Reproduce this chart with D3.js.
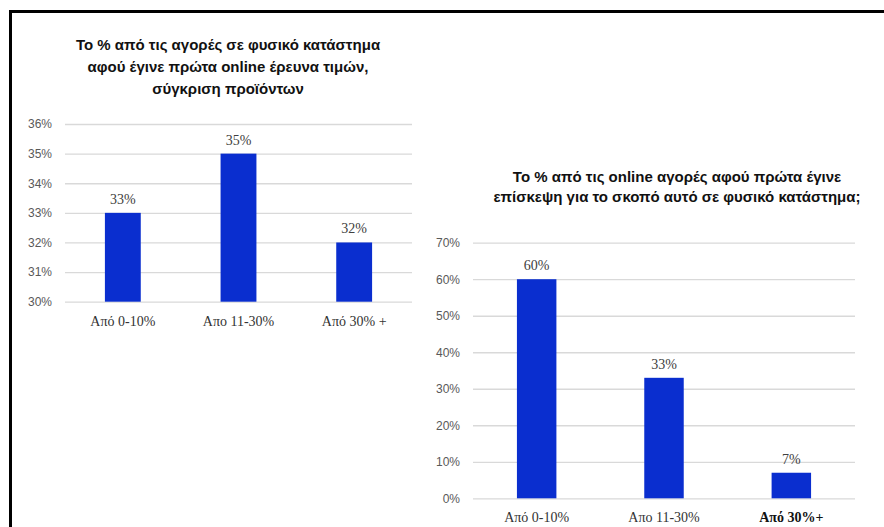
<!DOCTYPE html>
<html>
<head>
<meta charset="utf-8">
<script src="https://cdn.jsdelivr.net/npm/d3@7"></script>
<style>
  body { margin: 0; background: #fff; }
  svg { display: block; }
</style>
</head>
<body>
<div id="chart"></div>
<script>
// data
const categoriesLeft = ["Από 0-10%", "Απο 11-30%", "Από 30% +"];
const valuesLeft = [33, 35, 32];
const ticksLeft = [30, 31, 32, 33, 34, 35, 36];
const titleLeft = ["Το % από τις αγορές σε φυσικό κατάστημα", "αφού έγινε πρώτα online έρευνα τιμών,", "σύγκριση προϊόντων"];

const categoriesRight = ["Από 0-10%", "Απο 11-30%", "Από 30%+"];
const valuesRight = [60, 33, 7];
const ticksRight = [0, 10, 20, 30, 40, 50, 60, 70];
const titleRight = ["Το % από τις online αγορές αφού πρώτα έγινε", "επίσκεψη για το σκοπό αυτό σε φυσικό κατάστημα;"];

const W = 884, H = 527;
const barColor = "#0a2ecf";

const svg = d3.select("#chart").append("svg")
  .attr("width", W)
  .attr("height", H);

// frame (only top and left edges show)
svg.append("path")
  .attr("d", `M10.5,${H} V11.5 H${W}`)
  .attr("fill", "none")
  .attr("stroke", "#000")
  .attr("stroke-width", 3);

function drawChart(opts) {
  const { cats, vals, ticks, title, titleX, titleY, titleGap, x0, x1, yTop, yBottom, lastBold } = opts;
  const g = svg.append("g");

  const x = d3.scaleBand()
    .domain(cats)
    .range([x0, x1])
    .paddingInner(0.69)
    .paddingOuter(0.345);

  const y = d3.scaleLinear()
    .domain(d3.extent(ticks))
    .range([yBottom, yTop]);

  // title
  g.append("text")
    .attr("x", titleX)
    .attr("y", titleY)
    .attr("text-anchor", "middle")
    .style("font-family", "'Liberation Sans', Arial, sans-serif")
    .style("font-weight", "bold")
    .style("font-size", "15px")
    .style("fill", "#111")
    .selectAll("tspan")
    .data(title)
    .join("tspan")
    .attr("x", titleX)
    .attr("dy", (d, i) => (i === 0 ? 0 : titleGap))
    .text((d) => d);

  // grid + tick labels
  const yAxis = d3.axisLeft(y)
    .tickValues(ticks)
    .tickFormat((d) => d + "%")
    .tickSize(-(x1 - x0))
    .tickPadding(13);

  const ya = g.append("g")
    .attr("transform", `translate(${x0},0)`)
    .call(yAxis);
  ya.select(".domain").remove();
  ya.selectAll(".tick line").attr("stroke", "#d9d9d9").attr("stroke-width", 1.3);
  ya.selectAll(".tick text")
    .style("font-family", "'Liberation Sans', Arial, sans-serif")
    .style("font-size", "12px")
    .attr("fill", "#595959");

  // bars
  g.selectAll("rect.bar")
    .data(vals)
    .join("rect")
    .attr("class", "bar")
    .attr("x", (d, i) => x(cats[i]))
    .attr("y", (d) => y(d))
    .attr("width", x.bandwidth())
    .attr("height", (d) => yBottom - y(d))
    .attr("fill", barColor);

  // value labels
  g.selectAll("text.val")
    .data(vals)
    .join("text")
    .attr("class", "val")
    .attr("x", (d, i) => x(cats[i]) + x.bandwidth() / 2)
    .attr("y", (d) => y(d) - 9)
    .attr("text-anchor", "middle")
    .style("font-family", "'Liberation Serif', 'Times New Roman', serif")
    .style("font-size", "14px")
    .attr("fill", "#404040")
    .text((d) => d + "%");

  // category labels
  const xAxis = d3.axisBottom(x).tickSize(0).tickPadding(14);
  const xa = g.append("g")
    .attr("transform", `translate(0,${yBottom})`)
    .call(xAxis);
  xa.select(".domain").remove();
  xa.selectAll(".tick text")
    .style("font-family", "'Liberation Serif', 'Times New Roman', serif")
    .style("font-size", "14px")
    .style("font-weight", (d, i) => (lastBold && i === cats.length - 1 ? "bold" : "normal"))
    .attr("fill", (d, i) => (lastBold && i === cats.length - 1 ? "#111" : "#333"));
}

drawChart({
  cats: categoriesLeft, vals: valuesLeft, ticks: ticksLeft, title: titleLeft,
  titleX: 228, titleY: 50, titleGap: 22,
  x0: 65, x1: 412, yTop: 124, yBottom: 301.7, lastBold: false
});

drawChart({
  cats: categoriesRight, vals: valuesRight, ticks: ticksRight, title: titleRight,
  titleX: 677, titleY: 182, titleGap: 20,
  x0: 473, x1: 855, yTop: 242.7, yBottom: 498.3, lastBold: true
});
</script>
</body>
</html>
